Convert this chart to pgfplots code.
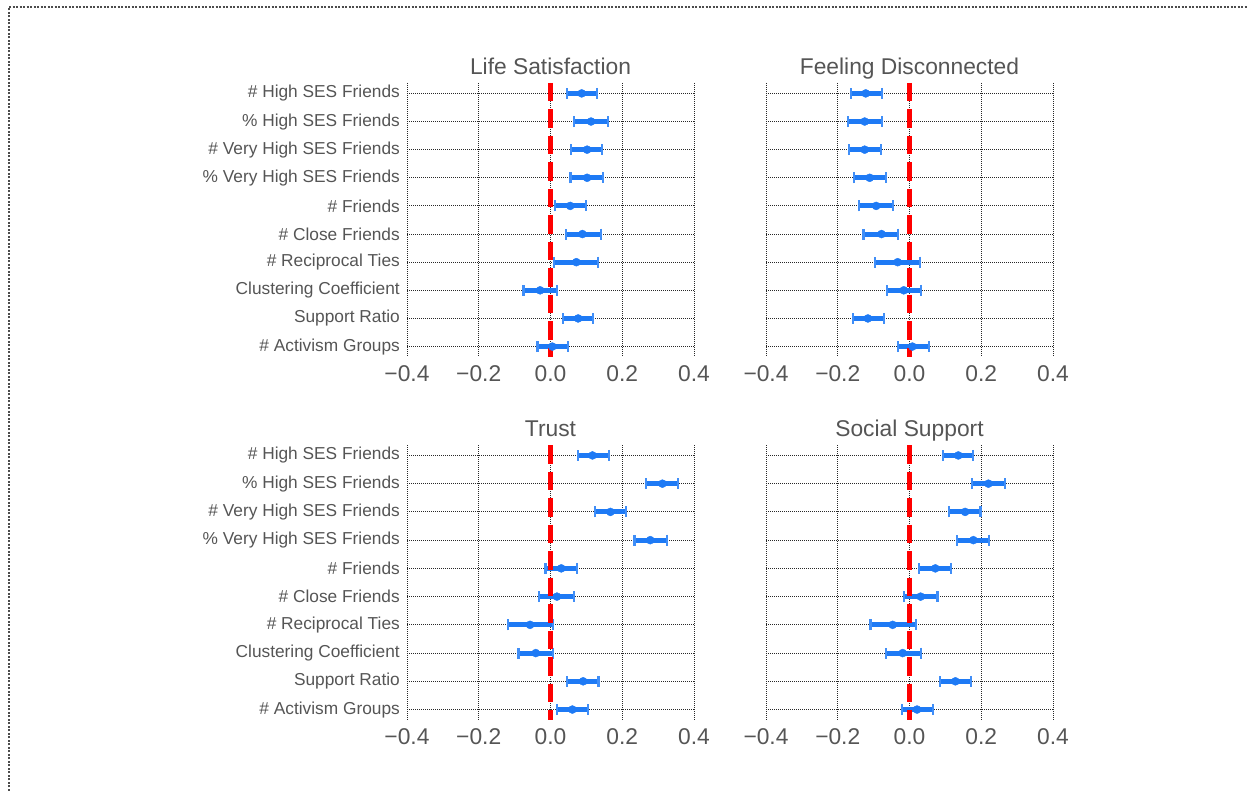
\documentclass[border=0pt]{standalone}
\usepackage{pgfplots}
\usepackage{pgfplotstable}
\usepackage{fontspec}
\setmainfont{Liberation Sans}
\pgfplotsset{compat=1.18}

\definecolor{txtgray}{RGB}{85,85,85}
\definecolor{barblue}{RGB}{30,122,245}
\definecolor{gridgray}{RGB}{40,40,40}

% columns: row index, estimate, lower bound, upper bound
\pgfplotstableread{
i c lo hi
0 0.087 0.045 0.130
1 0.113 0.066 0.161
2 0.102 0.057 0.143
3 0.102 0.056 0.147
4 0.055 0.012 0.099
5 0.089 0.043 0.140
6 0.072 0.010 0.133
7 -0.029 -0.075 0.018
8 0.077 0.034 0.118
9 0.005 -0.036 0.048
}\lifesat
\pgfplotstableread{
i c lo hi
0 -0.122 -0.162 -0.077
1 -0.125 -0.171 -0.077
2 -0.125 -0.169 -0.080
3 -0.111 -0.155 -0.065
4 -0.093 -0.140 -0.047
5 -0.078 -0.128 -0.031
6 -0.033 -0.096 0.029
7 -0.016 -0.063 0.032
8 -0.116 -0.158 -0.072
9 0.008 -0.033 0.054
}\disconn
\pgfplotstableread{
i c lo hi
0 0.117 0.077 0.162
1 0.312 0.266 0.356
2 0.167 0.123 0.210
3 0.278 0.234 0.325
4 0.030 -0.014 0.073
5 0.018 -0.032 0.066
6 -0.057 -0.119 0.006
7 -0.041 -0.089 0.006
8 0.091 0.047 0.134
9 0.061 0.018 0.105
}\trust
\pgfplotstableread{
i c lo hi
0 0.136 0.094 0.178
1 0.220 0.175 0.267
2 0.155 0.110 0.198
3 0.178 0.133 0.222
4 0.072 0.026 0.115
5 0.031 -0.016 0.078
6 -0.047 -0.109 0.017
7 -0.019 -0.065 0.032
8 0.128 0.084 0.171
9 0.021 -0.020 0.065
}\support

\pgfplotsset{
  panel/.style={
    scale only axis, width=287pt, height=#1,
    anchor=south west,
    xmin=-0.4, xmax=0.4, ymin=-0.37, ymax=9.37,
    y dir=reverse,
    axis line style={draw=none},
    major tick length=0pt,
    grid=major,
    major grid style={gridgray, line width=0.9pt, dash pattern=on 0.9pt off 1.1pt},
    xtick={-0.4,-0.2,0,0.2,0.4},
    xticklabels={−0.4,−0.2,0.0,0.2,0.4},
    xticklabel style={font=\fontsize{22.8}{26}\selectfont, text=txtgray, inner sep=0pt, anchor=north, yshift=-8pt},
    ytick={0,...,9},
    yticklabels={},
    yticklabel style={font=\fontsize{17.3}{20}\selectfont, text=txtgray, inner sep=0pt, anchor=east, xshift=-7pt},
    title style={font=\fontsize{22.8}{26}\selectfont, text=txtgray, at={(0.5,1)}, anchor=base, yshift=2.5pt, inner sep=0pt},
  },
  withnames/.style={
    yticklabels={\# High SES Friends,\% High SES Friends,\# Very High SES Friends,\% Very High SES Friends,\# Friends,\# Close Friends,\# Reciprocal Ties,Clustering Coefficient,Support Ratio,\# Activism Groups},
  },
  est/.style={
    barblue, only marks, mark=*, mark size=4pt,
    mark options={fill=barblue, draw=barblue},
    error bars/.cd, x dir=both, x explicit,
    error bar style={line width=5pt, barblue},
    error mark options={rotate=90, line width=2.2pt, mark size=5.5pt, barblue!85!white},
  },
  zeroline/.style={red, line width=5pt, dash pattern=on 18.5pt off 8pt},
}

\newcommand\estplot[1]{%
  \addplot+[est] table[x=c, y=i,
    x error plus expr=\thisrow{hi}-\thisrow{c},
    x error minus expr=\thisrow{c}-\thisrow{lo}] {#1};
  \addplot[zeroline] coordinates {(0,-0.37) (0,9.37)};
}

\begin{document}
\begin{tikzpicture}
\useasboundingbox (0pt,0pt) rectangle (1248pt,791pt);
% frame of the output cell
\draw[gray!60!black, line width=2pt, dash pattern=on 2pt off 1.5pt] (9pt,0pt) -- (9pt,784pt) -- (1248pt,784pt);

\begin{axis}[panel=274pt, withnames, at={(407pt,434pt)}, title={Life Satisfaction}]
\estplot{\lifesat}
\end{axis}

\begin{axis}[panel=274pt, at={(766pt,434pt)}, title={Feeling Disconnected}]
\estplot{\disconn}
\end{axis}

\begin{axis}[panel=275pt, withnames, at={(407pt,71pt)}, title={Trust}]
\estplot{\trust}
\end{axis}

\begin{axis}[panel=275pt, at={(766pt,71pt)}, title={Social Support}]
\estplot{\support}
\end{axis}
\end{tikzpicture}
\end{document}
